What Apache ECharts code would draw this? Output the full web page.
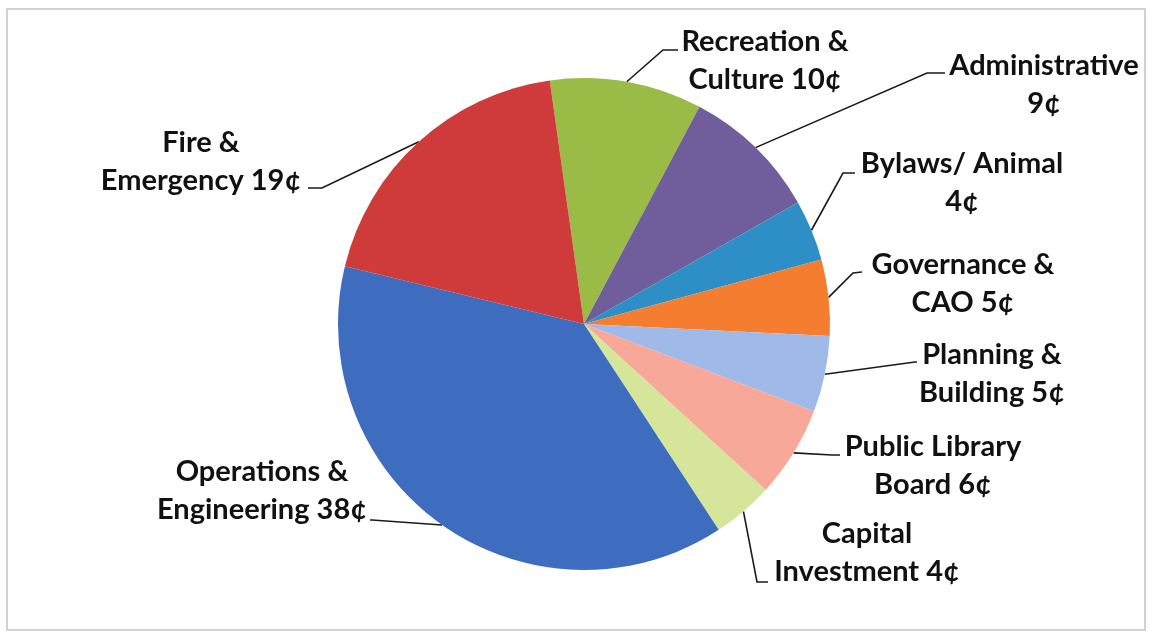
<!DOCTYPE html>
<html>
<head>
<meta charset="utf-8">
<style>
  html, body { margin: 0; padding: 0; background: #ffffff; }
  #chart { width: 1150px; height: 634px; }
</style>
<script src="https://cdn.jsdelivr.net/npm/echarts@6/dist/echarts.min.js"></script>
</head>
<body>
<div id="chart"></div>
<script>
// ---- data ----
const categories = [
  'Recreation &\nCulture',
  'Administrative\n',
  'Bylaws/ Animal\n',
  'Governance &\nCAO',
  'Planning &\nBuilding',
  'Public Library\nBoard',
  'Capital\nInvestment',
  'Operations &\nEngineering',
  'Fire &\nEmergency'
];
const centsPerDollar = [10, 9, 4, 5, 5, 6, 4, 38, 19];

// ---- styling / layout (not data) ----
const sliceColors = ['#9BBB47', '#6F5D9C', '#2E8FC6', '#F47D30', '#9FB9E9',
                     '#F8A899', '#D5E69B', '#3E6DBF', '#CF3B3B'];
// label block centre, leader elbow, leader end
const labelCentres = [[765, 61], [1044, 85], [962, 183], [963, 284], [992, 374],
                      [933, 466], [867, 553], [262, 491], [201, 162]];
const leaderElbows = [[663, 50], [927, 73], [843, 173], [853, 273], [915, 362],
                      [832, 455], [757, 582], [372, 520], [322, 188]];
const leaderEnds   = [[678, 50], [945, 73], [855, 173], [862, 272], [917, 362],
                      [840, 455], [768, 582], [370, 520], [308, 188]];

const chart = echarts.init(document.getElementById('chart'), null, { renderer: 'canvas' });

const seriesData = categories.map((name, i) => ({
  name: name,
  value: centsPerDollar[i],
  itemStyle: { color: sliceColors[i] }
}));

chart.setOption({
  backgroundColor: '#ffffff',
  animation: false,
  graphic: [{
    type: 'rect',
    shape: { x: 7, y: 9, width: 1138, height: 621 },
    style: { fill: 'none', stroke: '#c4c4c4', lineWidth: 1.5 },
    silent: true,
    z: -1
  }],
  series: [{
    type: 'pie',
    center: [584, 324],
    radius: 246,
    startAngle: 98,
    clockwise: true,
    avoidLabelOverlap: false,
    data: seriesData,
    itemStyle: { borderWidth: 0 },
    label: {
      show: true,
      position: 'outside',
      formatter: p => p.name + (p.name.endsWith('\n') ? '' : ' ') + p.value + '¢',
      fontFamily: 'Lato',
      fontWeight: 'bold',
      fontSize: 29,
      lineHeight: 38,
      color: '#111111',
      align: 'center'
    },
    labelLine: {
      show: true,
      length: 10,
      length2: 10,
      lineStyle: { color: '#1a1a1a', width: 1.6 }
    },
    labelLayout: function (params) {
      const i = params.dataIndex;
      const start = params.labelLinePoints ? params.labelLinePoints[0] : leaderElbows[i];
      return {
        x: labelCentres[i][0],
        y: labelCentres[i][1],
        align: 'center',
        verticalAlign: 'middle',
        labelLinePoints: [start, leaderElbows[i], leaderEnds[i]]
      };
    },
    emphasis: { disabled: true }
  }]
});
</script>
</body>
</html>
